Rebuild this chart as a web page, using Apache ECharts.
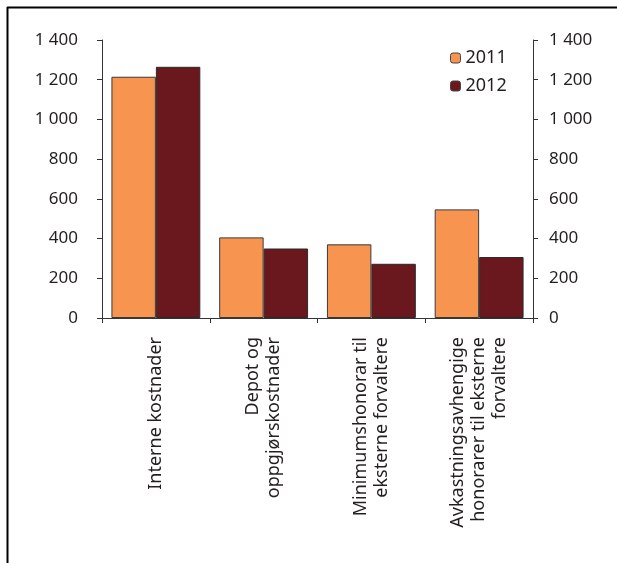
<!DOCTYPE html>
<html>
<head>
<meta charset="utf-8">
<script src="https://cdn.jsdelivr.net/npm/echarts@6/dist/echarts.min.js"></script>
<style>
  html, body { margin: 0; padding: 0; background: #fff; }
  #chart { width: 617px; height: 563px; }
</style>
</head>
<body>
<div id="chart"></div>
<script>
// Cost categories (line breaks as shown under the axis)
const categories = [
  'Interne kostnader',
  'Depot og\noppgjørskostnader',
  'Minimumshonorar til\neksterne forvaltere',
  'Avkastningsavhengige\nhonorarer til eksterne\nforvaltere'
];
const seriesNames = ['2011', '2012'];
const values2011 = [1215, 406, 371, 547];
const values2012 = [1265, 350, 273, 307];
const yTicks = { min: 0, max: 1400, interval: 200 };

const FONT = '"Noto Sans", "Liberation Sans", sans-serif';
const TEXT = '#231f20';

function fmt(v) {
  return String(v).replace(/\B(?=(\d{3})+(?!\d))/g, ' ');
}

const chart = echarts.init(document.getElementById('chart'), null, { renderer: 'canvas' });

const valueAxisBase = {
  type: 'value',
  min: yTicks.min, max: yTicks.max, interval: yTicks.interval,
  splitLine: { show: false },
  axisLine: { show: true, lineStyle: { color: '#333', width: 1 } },
  axisTick: { show: true, length: 5, lineStyle: { color: '#333' } },
  axisLabel: { color: TEXT, fontSize: 17, fontFamily: FONT, formatter: fmt }
};

chart.setOption({
  animation: false,
  backgroundColor: '#fff',
  grid: { left: 102, right: 84, top: 40, bottom: 245, containLabel: false },
  legend: {
    orient: 'vertical',
    left: 450, top: 49,
    padding: 0,
    itemWidth: 10, itemHeight: 10,
    itemGap: 10,
    textStyle: { color: TEXT, fontSize: 18, fontFamily: FONT },
    data: seriesNames.map(n => ({ name: n, itemStyle: { borderColor: '#444', borderWidth: 1 } }))
  },
  xAxis: {
    type: 'category',
    data: categories,
    axisLine: { lineStyle: { color: '#333', width: 1 } },
    axisTick: { show: true, length: 5, alignWithLabel: false, lineStyle: { color: '#333' } },
    axisLabel: {
      rotate: 90, interval: 0, margin: 19,
      color: TEXT, fontSize: 18, lineHeight: 21, fontFamily: FONT
    }
  },
  yAxis: [
    Object.assign({}, valueAxisBase, { position: 'left', axisLabel: Object.assign({}, valueAxisBase.axisLabel, { margin: 24 }) }),
    Object.assign({}, valueAxisBase, { position: 'right', axisLabel: Object.assign({}, valueAxisBase.axisLabel, { margin: 16 }) })
  ],
  series: [
    {
      name: seriesNames[0], type: 'bar', data: values2011,
      barGap: '0%', barCategoryGap: '17.5%',
      itemStyle: { color: '#f7944f', borderColor: '#3a3a3a', borderWidth: 1 }
    },
    {
      name: seriesNames[1], type: 'bar', data: values2012,
      itemStyle: { color: '#6a181e', borderColor: '#2a2a2a', borderWidth: 1 }
    }
  ],
  graphic: [
    { type: 'line', shape: { x1: 7, y1: 7.5, x2: 617, y2: 7.5 }, style: { stroke: '#000', lineWidth: 2 } },
    { type: 'line', shape: { x1: 7.5, y1: 7, x2: 7.5, y2: 563 }, style: { stroke: '#000', lineWidth: 2 } }
  ]
});
</script>
</body>
</html>
